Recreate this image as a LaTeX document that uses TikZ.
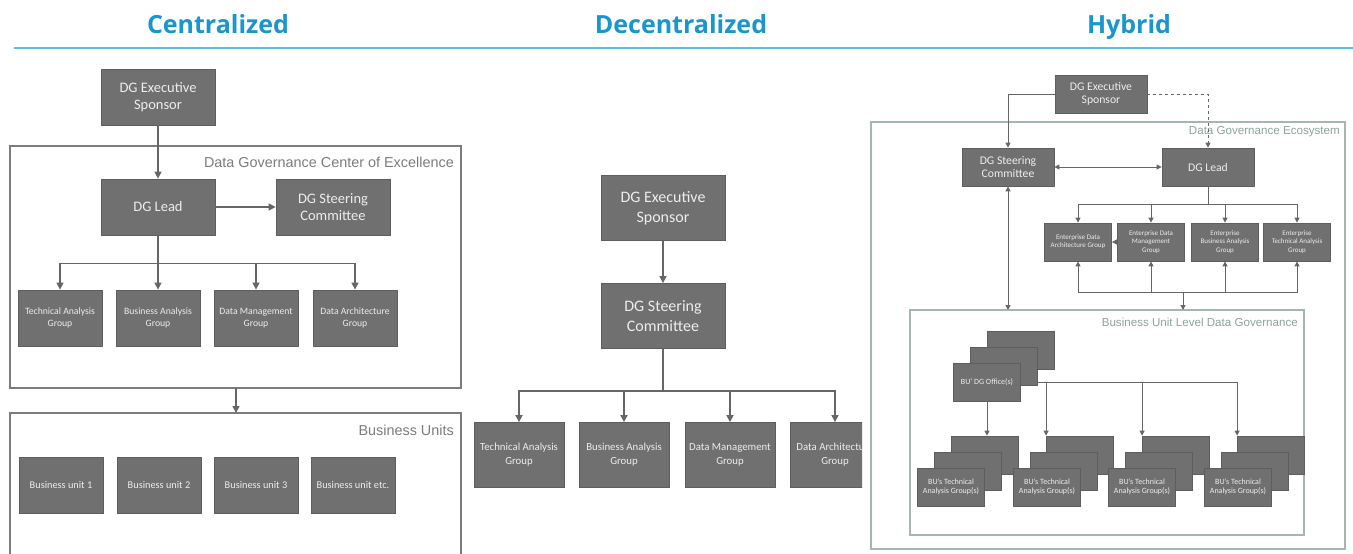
\documentclass[tikz,border=0pt]{standalone}
\usepackage{fontspec}
\setmainfont{Carlito}
\newfontfamily\headfont{Open Sans}
\newfontfamily\labelfont{Liberation Sans}
\usetikzlibrary{arrows.meta}

\definecolor{boxgray}{HTML}{707070}
\definecolor{boxedge}{HTML}{5E5E5E}
\definecolor{linegray}{HTML}{666666}
\definecolor{framegray}{HTML}{7C7C7C}
\definecolor{ecoline}{HTML}{A5B6B2}
\definecolor{ecotext}{HTML}{8EA29E}
\definecolor{headblue}{HTML}{1A96CE}
\definecolor{ruleblue}{HTML}{5CBEE5}

\tikzset{
  box/.style={draw=boxedge, fill=boxgray, text=white!93!black, align=center, inner sep=1pt, line width=0.8pt},
  cbig/.style={box, minimum width=114pt, minimum height=56pt, font=\fontsize{14.5}{17}\selectfont},
  cgrp/.style={box, minimum width=84pt, minimum height=56pt, font=\fontsize{9.7}{12}\selectfont},
  cunit/.style={cgrp, font=\fontsize{10.3}{12}\selectfont},
  dbig/.style={box, minimum width=124pt, minimum height=65pt, font=\fontsize{16}{20}\selectfont},
  dgrp/.style={box, minimum width=90pt, minimum height=65pt, font=\fontsize{10.8}{14}\selectfont},
  hbig/.style={box, minimum width=92pt, minimum height=38pt, font=\fontsize{11.7}{13.5}\selectfont},
  hsmall/.style={box, minimum width=67pt, minimum height=38pt, font=\fontsize{7}{8.3}\selectfont},
  hbu/.style={hsmall, font=\fontsize{8}{9.5}\selectfont},
  head/.style={font=\headfont\bfseries\fontsize{25}{30}\selectfont, text=headblue, anchor=base},
  flabel/.style={font=\labelfont\fontsize{14.4}{16}\selectfont, text=framegray, inner sep=0pt},
  elabel/.style={font=\labelfont\fontsize{11.6}{13}\selectfont, text=ecotext, inner sep=0pt},
  wire/.style={draw=linegray, line width=1.5pt},
  arr/.style={wire, -{Triangle[length=7pt,width=7pt]}},
  harr/.style={draw=linegray, line width=1pt, -{Triangle[length=5pt,width=5pt]}},
  hboth/.style={draw=linegray, line width=1pt, {Triangle[length=5pt,width=5pt]}-{Triangle[length=5pt,width=5pt]}},
  hwire/.style={draw=linegray, line width=1pt}
}

\begin{document}
\begin{tikzpicture}[x=1pt, y=-1pt]
  \useasboundingbox[fill=white] (0,0) rectangle (1353,554);

  % headings
  \node[head] (tcen) at (218,34) {Centralized};
  \node[head] (tdec) at (681,34) {Decentralized};
  \node[head] (thyb) at (1129,34) {Hybrid};
  \draw[ruleblue, line width=1.3pt] (14,48) -- (1353,48);

  % centralized
  \draw[framegray, line width=1.8pt] (10,146) rectangle (461,388);
  \draw[framegray, line width=1.8pt] (10,554) -- (10,413) -- (461,413) -- (461,554);
  \node[flabel, anchor=east] (lcoe) at (454,162) {Data Governance Center of Excellence};
  \node[flabel, anchor=east] (lbu) at (454,430) {Business Units};
  \coordinate (coeout) at (236,388);
  \coordinate (buin) at (236,413);

  \node[cbig] (cexec) at (158,97) {DG Executive\\Sponsor};
  \node[cbig] (clead) at (158,207) {DG Lead};
  \node[cbig] (csteer) at (333,207) {DG Steering\\Committee};
  \node[cgrp] (ctech) at (60,318) {Technical Analysis\\Group};
  \node[cgrp] (cbiz) at (158,318) {Business Analysis\\Group};
  \node[cgrp] (cmgmt) at (256,318) {Data Management\\Group};
  \node[cgrp] (carch) at (355,318) {Data Architecture\\Group};
  \node[cunit] (cunit1) at (61,485) {Business unit 1};
  \node[cunit] (cunit2) at (159,485) {Business unit 2};
  \node[cunit] (cunit3) at (256,485) {Business unit 3};
  \node[cunit] (cunit4) at (353,485) {Business unit etc.};

  \draw[arr] (cexec) -- (clead);
  \draw[arr] (clead) -- (csteer);
  \draw[wire] (clead.south) -- ++(0,28) coordinate (cbus);
  \draw[arr] (cbus) -| (ctech.north);
  \draw[arr] (cbus) -- (cbiz.north);
  \draw[arr] (cbus) -| (cmgmt.north);
  \draw[arr] (cbus) -| (carch.north);
  \draw[arr] (coeout) -- (buin);

  % decentralized
  \begin{scope}
    \clip (462,0) rectangle (862,554);
    \node[dbig] (dexec) at (663,208) {DG Executive\\Sponsor};
    \node[dbig] (dsteer) at (663,316) {DG Steering\\Committee};
    \node[dgrp] (dtech) at (519,455) {Technical Analysis\\Group};
    \node[dgrp] (dbiz) at (624,455) {Business Analysis\\Group};
    \node[dgrp] (dmgmt) at (730,455) {Data Management\\Group};
    \node[dgrp] (darch) at (835,455) {Data Architecture\\Group};
    \draw[arr] (dexec) -- (dsteer);
    \draw[wire] (dsteer.south) -- ++(0,42) coordinate (dbus);
    \draw[arr] (dbus) -| (dtech.north);
    \draw[arr] (dbus) -| (dbiz.north);
    \draw[arr] (dbus) -| (dmgmt.north);
    \draw[arr] (dbus) -| (darch.north);
  \end{scope}

  % hybrid
  \draw[ecoline, line width=1.3pt] (871,122) rectangle (1345,549);
  \draw[ecoline, line width=1.3pt] (910,310) rectangle (1304,535);
  \node[elabel, anchor=east] (leco) at (1340,132) {Data Governance Ecosystem};
  \node[elabel, anchor=east] (lbul) at (1298,322) {Business Unit Level Data Governance};

  \node[hbig] (hexec) at (1101,94) {DG Executive\\Sponsor};
  \node[hbig] (hsteer) at (1008,167) {DG Steering\\Committee};
  \node[hbig] (hlead) at (1208,167) {DG Lead};
  \node[hsmall] (earch) at (1078,242) {Enterprise Data\\Architecture Group};
  \node[hsmall] (emgmt) at (1151,242) {Enterprise Data\\Management\\Group};
  \node[hsmall] (ebiz) at (1225,242) {Enterprise\\Business Analysis\\Group};
  \node[hsmall] (etech) at (1297,242) {Enterprise\\Technical Analysis\\Group};

  \draw[harr] (hexec.west) -| (hsteer.north);
  \draw[harr, dashed] (hexec.east) -| (hlead.north);
  \draw[hboth] (hsteer) -- (hlead);
  \draw[hwire] (hlead.south) -- ++(0,18) coordinate (hbus);
  \draw[harr] (hbus) -| (earch.north);
  \draw[harr] (hbus) -| (emgmt.north);
  \draw[harr] (hbus) -| (ebiz.north);
  \draw[harr] (hbus) -| (etech.north);
  \draw[harr] (emgmt.west) -- (earch.east);
  \coordinate (hbot) at (1151,292);
  \coordinate (bujoin) at (1183,310);
  \draw[harr] (hbot) -| (earch.south);
  \draw[harr] (hbot) -- (emgmt.south);
  \draw[harr] (hbot) -| (ebiz.south);
  \draw[harr] (hbot) -| (etech.south);
  \draw[harr] (hbot) -| (bujoin);
  \draw[hboth] (hsteer.south) -- (hsteer.south |- bujoin);

  % business unit level
  \node[hbu] (off3) at (1021,350) {};
  \node[hbu] (off2) at (1004,366) {};
  \node[hbu] (off1) at (987,382) {BU' DG Office(s)};

  \node[hbu] (t1c) at (985,455) {};
  \node[hbu] (t1b) at (968,471) {};
  \node[hbu] (t1a) at (951,487) {BU's Technical\\Analysis Group(s)};
  \node[hbu] (t2c) at (1080,455) {};
  \node[hbu] (t2b) at (1064,471) {};
  \node[hbu] (t2a) at (1047,487) {BU's Technical\\Analysis Group(s)};
  \node[hbu] (t3c) at (1176,455) {};
  \node[hbu] (t3b) at (1159,471) {};
  \node[hbu] (t3a) at (1142,487) {BU's Technical\\Analysis Group(s)};
  \node[hbu] (t4c) at (1271,455) {};
  \node[hbu] (t4b) at (1255,471) {};
  \node[hbu] (t4a) at (1238,487) {BU's Technical\\Analysis Group(s)};

  \draw[harr] (off1.south) -- (off1.south |- t1c.north);
  \draw[hwire] (off2.east |- off1) -- (t4c.north west |- off1);
  \draw[harr] (t2c.north west |- off1) -- (t2c.north west);
  \draw[harr] (t3c.north west |- off1) -- (t3c.north west);
  \draw[harr] (t4c.north west |- off1) -- (t4c.north west);
\end{tikzpicture}
\end{document}
